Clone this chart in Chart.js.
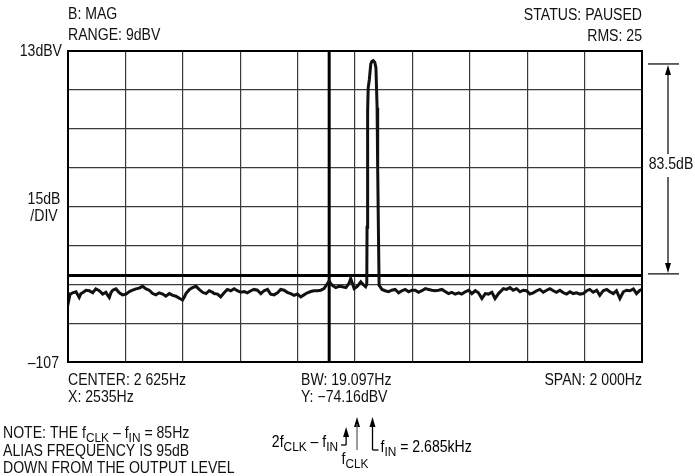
<!DOCTYPE html>
<html lang="en">
<head>
    <meta charset="UTF-8">
    <title>Spectrum - alias frequency</title>
    <script src="https://cdn.jsdelivr.net/npm/chart.js"></script>
    <style>
        body { margin: 0; background: #fff; }
        canvas { display: block; }
    </style>
</head>
<body>
    <canvas id="spectrum" width="695" height="476"></canvas>

    <script>
        // frequency axis (Hz) and level axis (dBV)
        const xGridHz = [1625, 1825, 2025, 2225, 2425, 2625, 2825, 3025, 3225, 3425, 3625];
        const yGridDbv = [13, -2, -17, -32, -47, -62, -77, -92, -107];

        // trace
        const traceHz = [
            1625, 1628, 1632, 1641, 1653, 1664, 1670, 1676, 1688, 1699,
            1711, 1722, 1734, 1746, 1757, 1763, 1769, 1775, 1781, 1792,
            1804, 1815, 1827, 1839, 1850, 1862, 1873, 1885, 1897, 1908,
            1920, 1931, 1943, 1955, 1966, 1978, 1990, 2001, 2013, 2024,
            2030, 2036, 2048, 2059, 2071, 2082, 2094, 2106, 2117, 2129,
            2134, 2146, 2157, 2169, 2180, 2192, 2204, 2215, 2227, 2239,
            2250, 2262, 2273, 2285, 2297, 2308, 2320, 2331, 2343, 2355,
            2366, 2378, 2389, 2401, 2413, 2424, 2436, 2447, 2459, 2471,
            2482, 2494, 2506, 2517, 2529, 2535, 2540, 2546, 2558, 2569,
            2581, 2593, 2604, 2610, 2616, 2622, 2633, 2645, 2656, 2662,
            2666, 2667, 2668, 2670, 2671, 2675, 2680, 2684, 2689, 2694,
            2698, 2702, 2704, 2707, 2709, 2713, 2719, 2730, 2742, 2753,
            2765, 2777, 2788, 2800, 2812, 2823, 2835, 2846, 2858, 2870,
            2881, 2893, 2904, 2916, 2928, 2939, 2951, 2962, 2974, 2986,
            2997, 3009, 3021, 3032, 3044, 3055, 3067, 3079, 3090, 3102,
            3113, 3125, 3142, 3153, 3165, 3176, 3188, 3200, 3211, 3223,
            3234, 3246, 3258, 3269, 3281, 3293, 3304, 3316, 3327, 3339,
            3351, 3362, 3374, 3385, 3397, 3409, 3420, 3432, 3443, 3455,
            3467, 3478, 3490, 3502, 3513, 3525, 3536, 3548, 3560, 3571,
            3583, 3595, 3606, 3618, 3625
        ];
        const traceDbv = [
            -80.2, -83.0, -80.9, -80.3, -79.9, -82.1, -80.6, -80.3, -79.3, -79.5,
            -80.3, -78.8, -79.5, -80.8, -80.1, -81.2, -82.1, -80.2, -79.3, -78.8,
            -80.3, -81.1, -80.8, -79.8, -79.3, -78.8, -78.5, -77.8, -78.8, -79.3,
            -80.6, -81.1, -80.3, -80.8, -81.6, -80.6, -81.3, -81.6, -82.4, -83.1,
            -82.0, -80.6, -79.0, -78.3, -77.8, -79.0, -80.1, -80.6, -79.5, -80.1,
            -80.6, -80.8, -81.9, -80.3, -79.0, -79.5, -78.7, -79.5, -80.1, -79.8,
            -80.3, -79.5, -79.0, -79.3, -80.6, -79.5, -79.0, -80.8, -81.1, -80.3,
            -79.0, -79.3, -80.1, -80.6, -81.3, -80.8, -81.9, -81.1, -80.3, -79.8,
            -79.5, -79.5, -79.3, -78.7, -76.7, -75.7, -76.7, -77.4, -78.3, -77.8,
            -78.0, -78.3, -76.7, -74.8, -76.7, -78.7, -77.8, -76.1, -77.4, -78.0,
            -77.0, -55.0, -20.5, -10.0, -1.2, 2.0, 8.0, 9.0, 9.3, 8.6,
            6.5, -8.9, -32.0, -60.0, -77.5, -78.0, -79.0, -79.5, -79.9, -79.3,
            -79.0, -80.3, -79.5, -79.0, -79.9, -79.3, -79.3, -80.1, -79.5, -78.7,
            -79.0, -79.3, -79.5, -79.3, -79.0, -79.8, -80.6, -80.1, -80.8, -80.3,
            -80.8, -79.9, -79.3, -80.6, -79.5, -80.3, -82.5, -80.6, -80.8, -80.1,
            -82.5, -80.6, -78.7, -79.0, -78.3, -79.3, -78.7, -79.9, -79.3, -79.5,
            -80.8, -80.3, -79.5, -79.0, -80.1, -79.3, -78.7, -79.5, -80.1, -79.3,
            -80.3, -80.8, -79.9, -80.6, -80.3, -80.8, -80.6, -79.5, -79.0, -80.1,
            -79.3, -81.3, -79.5, -79.0, -79.9, -80.6, -79.5, -82.5, -79.9, -79.3,
            -79.5, -78.8, -80.6, -79.3, -79.0
        ];

        const markerHz = 2535;       // X: 2535Hz
        const refDbv = -73.6;        // marker level line
        const dimDbv = [8, -73];     // 83.5dB dimension ends
        const arrowHz = [2594, 2632, 2686];

        const FONT = '"Liberation Sans", Arial, sans-serif';
        const MAIN = '16px ' + FONT;
        const SUB = '13.5px ' + FONT;
        const SQUEEZE = 0.88;   // the screen lettering is condensed

        // parts: plain strings, or [string] for subscript
        function richText(ctx, parts, x, y, align) {
            let w = 0;
            parts.forEach(p => {
                ctx.font = Array.isArray(p) ? SUB : MAIN;
                w += ctx.measureText(Array.isArray(p) ? p[0] : p).width;
            });
            w *= SQUEEZE;
            const x0 = align === 'right' ? x - w : align === 'center' ? x - w / 2 : x;
            ctx.save();
            ctx.translate(x0, y);
            ctx.scale(SQUEEZE, 1);
            ctx.textAlign = 'left';
            ctx.textBaseline = 'middle';
            let cx = 0;
            parts.forEach(p => {
                const sub = Array.isArray(p);
                const t = sub ? p[0] : p;
                ctx.font = sub ? SUB : MAIN;
                ctx.fillText(t, cx, sub ? 4.5 : 0);
                cx += ctx.measureText(t).width;
            });
            ctx.restore();
        }

        function arrowHead(ctx, x, y, dir) {
            ctx.beginPath();
            ctx.moveTo(x, y);
            ctx.lineTo(x - 3, y + dir * 10);
            ctx.lineTo(x + 3, y + dir * 10);
            ctx.closePath();
            ctx.fill();
        }

        function line(ctx, x1, y1, x2, y2) {
            ctx.beginPath();
            ctx.moveTo(x1, y1);
            ctx.lineTo(x2, y2);
            ctx.stroke();
        }

        const textPlugin = {
            id: 'screenText',
            afterDatasetsDraw(chart) {
                const ctx = chart.ctx;
                const a = chart.chartArea;
                const xs = chart.scales.x;
                const ys = chart.scales.y;
                ctx.save();
                ctx.strokeStyle = '#000';
                ctx.lineWidth = 2;
                ctx.strokeRect(a.left, a.top, a.right - a.left, a.bottom - a.top);

                ctx.fillStyle = '#111';
                richText(ctx, ['B: MAG'], a.left, 15, 'left');
                richText(ctx, ['RANGE: 9dBV'], a.left, 36, 'left');
                richText(ctx, ['STATUS: PAUSED'], a.right, 16, 'right');
                richText(ctx, ['RMS: 25'], a.right, 37, 'right');

                richText(ctx, ['13dBV'], a.left - 6, ys.getPixelForValue(13) + 1, 'right');
                richText(ctx, ['15dB'], 44, 200, 'center');
                richText(ctx, ['/DIV'], 44, 217, 'center');
                richText(ctx, ['\u2013107'], a.left - 9, ys.getPixelForValue(-107) + 2, 'right');

                richText(ctx, ['CENTER: 2 625Hz'], a.left, 381, 'left');
                richText(ctx, ['X: 2535Hz'], a.left, 398, 'left');
                richText(ctx, ['BW: 19.097Hz'], 301, 381, 'left');
                richText(ctx, ['Y: \u221274.16dBV'], 301, 398, 'left');
                richText(ctx, ['SPAN: 2 000Hz'], a.right, 381, 'right');

                richText(ctx, ['NOTE: THE f', ['CLK'], ' \u2013 f', ['IN'], ' = 85Hz'], 3, 434, 'left');
                richText(ctx, ['ALIAS FREQUENCY IS 95dB'], 3, 452, 'left');
                richText(ctx, ['DOWN FROM THE OUTPUT LEVEL'], 3, 469, 'left');

                // arrows under the plot
                ctx.fillStyle = '#000';
                ctx.strokeStyle = '#000';
                ctx.lineWidth = 1.3;
                const x1 = xs.getPixelForValue(arrowHz[0]);
                const x2 = xs.getPixelForValue(arrowHz[1]);
                const x3 = xs.getPixelForValue(arrowHz[2]);
                arrowHead(ctx, x1, 427, 1);
                line(ctx, x1, 434, x1, 445);
                line(ctx, x1, 445, x1 - 5, 445);
                richText(ctx, ['2f', ['CLK'], ' \u2013 f', ['IN']], x1 - 8, 443, 'right');

                arrowHead(ctx, x3, 417, 1);
                line(ctx, x3, 424, x3, 450);
                line(ctx, x3, 450, x3 + 6, 450);
                richText(ctx, ['f', ['IN'], ' = 2.685kHz'], x3 + 8, 448, 'left');

                ctx.strokeStyle = '#666';
                arrowHead(ctx, x2, 417, 1);
                line(ctx, x2, 424, x2, 450);
                ctx.fillStyle = '#111';
                richText(ctx, ['f', ['CLK']], x2 - 2, 460, 'center');

                // 83.5dB dimension
                ctx.strokeStyle = '#000';
                ctx.fillStyle = '#000';
                ctx.lineWidth = 1.2;
                const yTop = ys.getPixelForValue(dimDbv[0]);
                const yBot = ys.getPixelForValue(dimDbv[1]);
                const dx = 668;
                line(ctx, 648, yTop, 679, yTop);
                line(ctx, 648, yBot, 679, yBot);
                arrowHead(ctx, dx, yTop + 1, 1);
                arrowHead(ctx, dx, yBot - 1, -1);
                line(ctx, dx, yTop + 8, dx, 154);
                line(ctx, dx, 177, dx, yBot - 8);
                ctx.fillStyle = '#111';
                richText(ctx, ['83.5dB'], 671, 165, 'center');
                ctx.restore();
            }
        };

        const gridOpts = { color: '#3a3a3a', lineWidth: 1.2, drawTicks: false };

        new Chart(document.getElementById('spectrum').getContext('2d'), {
            type: 'line',
            data: {
                datasets: [
                    {
                        data: traceHz.map((f, i) => ({ x: f, y: traceDbv[i] })),
                        borderColor: '#111',
                        borderWidth: 3,
                        pointRadius: 0,
                        tension: 0
                    },
                    {
                        data: [{ x: markerHz, y: -107 }, { x: markerHz, y: 13 }],
                        borderColor: '#000',
                        borderWidth: 3,
                        pointRadius: 0
                    },
                    {
                        data: [{ x: 1625, y: refDbv }, { x: 3625, y: refDbv }],
                        borderColor: '#000',
                        borderWidth: 3,
                        pointRadius: 0
                    }
                ]
            },
            options: {
                responsive: false,
                animation: false,
                devicePixelRatio: 1,
                layout: { padding: { left: 68, right: 53, top: 51, bottom: 114 } },
                plugins: { legend: { display: false }, tooltip: { enabled: false } },
                scales: {
                    x: {
                        type: 'linear',
                        min: 1625,
                        max: 3625,
                        afterBuildTicks: s => { s.ticks = xGridHz.map(v => ({ value: v })); },
                        ticks: { display: false },
                        grid: gridOpts,
                        border: { display: false }
                    },
                    y: {
                        min: -107,
                        max: 13,
                        afterBuildTicks: s => { s.ticks = yGridDbv.map(v => ({ value: v })); },
                        ticks: { display: false },
                        grid: gridOpts,
                        border: { display: false }
                    }
                }
            },
            plugins: [textPlugin]
        });
    </script>
</body>
</html>
